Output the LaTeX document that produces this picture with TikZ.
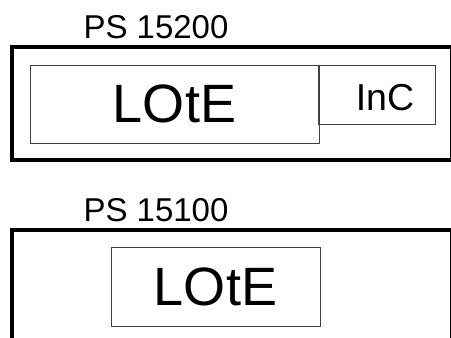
\documentclass[tikz,border=0pt]{standalone}
\usepackage{fontspec}
\setmainfont{Liberation Sans}
\tikzset{
  frame/.style={line width=4pt, line join=miter},
  inbox/.style={draw=black!75, line width=1pt, rectangle, inner sep=0pt},
  lbl/.style={inner sep=0pt, anchor=base},
}
\begin{document}
\begin{tikzpicture}[x=1pt,y=-1pt]
\useasboundingbox (0,0) rectangle (451,338);
\clip (0,0) rectangle (451,338);
% top panel
\draw[frame] (452.35,160) -- (12,160) -- (12,47) -- (452.35,47) -- cycle;
\node[lbl, font=\fontsize{33}{36}\selectfont] (ps1) at (156,38.3) {PS 15200};
\node[inbox, minimum width=289pt, minimum height=78pt,
      font=\fontsize{54}{60}\selectfont] (lote1) at (174.5,104) {LOtE};
\node[inbox, minimum width=117pt, minimum height=59pt] (incbox) at (376.5,94.5) {};
\node[lbl, font=\fontsize{37.5}{40}\selectfont] (inc) at (385,110) {InC};
% bottom panel
\draw[frame] (12,350) -- (12,230) -- (452.35,230) -- (452.35,350);
\node[lbl, font=\fontsize{33}{36}\selectfont] (ps2) at (156,221.7) {PS 15100};
\node[inbox, minimum width=209pt, minimum height=78.3pt,
      font=\fontsize{54}{60}\selectfont] (lote2) at (215.5,286.9) {LOtE};
\end{tikzpicture}
\end{document}
